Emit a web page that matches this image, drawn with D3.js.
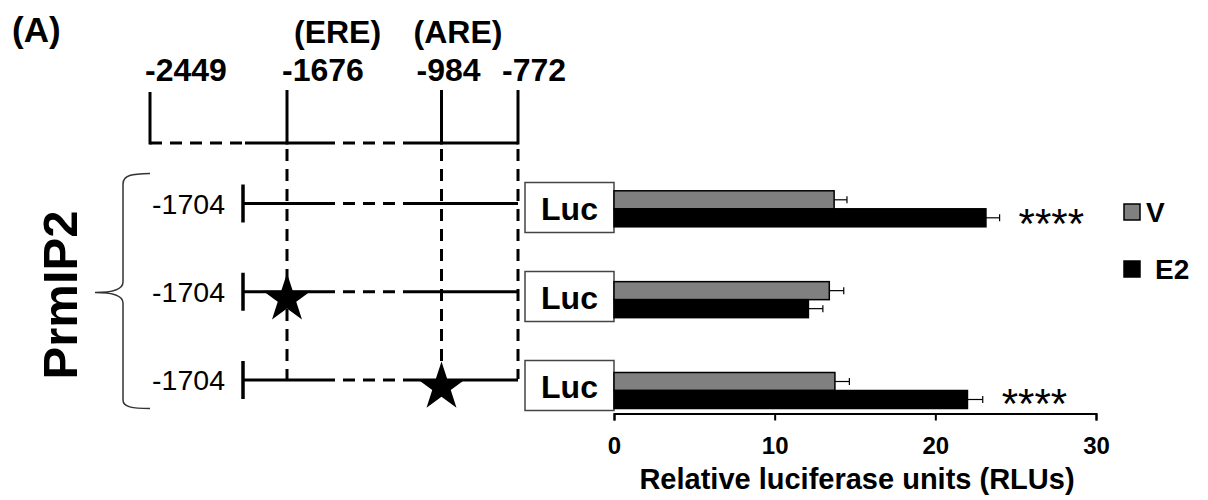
<!DOCTYPE html>
<html>
<head>
<meta charset="utf-8">
<script src="https://cdn.jsdelivr.net/npm/d3@7"></script>
<style>
  body { margin: 0; background: #fff; }
  svg { font-family: "Liberation Sans", Arial, sans-serif; }
  .bold { font-weight: bold; }
</style>
</head>
<body>
<svg width="1208" height="500"></svg>
<script>
// promoter sites on the map (bp) and the response elements above them
const sites = ["-2449", "-1676", "-984", "-772"];
const elements = [
  { site: "-1676", label: "(ERE)" },
  { site: "-984", label: "(ARE)" }
];

// reporter constructs: all start at -1704, mutated element marked by a star
const constructs = ["wt", "mutERE", "mutARE"];
const constructStart = "-1704";
const mutatedSite = [null, "-1676", "-984"];

// luciferase data
const seriesNames = ["V", "E2"];
const vValues = [13.7, 13.4, 13.75];
const vErrors = [0.8, 0.9, 0.9];
const e2Values = [23.15, 12.1, 22.0];
const e2Errors = [0.85, 0.9, 0.95];
const significance = ["****", "", "****"];
const xTicks = [0, 10, 20, 30];

const svg = d3.select("svg");

// ---------- layout ----------
const siteX = d3.scaleOrdinal().domain(sites).range([150, 287, 441.5, 518]);
const siteLabelShift = [-5, -5, -25, -16];
const startX = 243;
const solidEnd = 323;
const dashEnd = 415;
const mapY = 143;
const mapTop = 90;

const rowY = d3.scalePoint().domain(constructs).range([203.5, 380]);
const barY = d3.scalePoint().domain(constructs).range([208.8, 390.5]);
const lucY = d3.scalePoint().domain(constructs).range([207.5, 385.5]);

const xScale = d3.scaleLinear().domain([0, 30]).range([614, 1096]);
const barH = 18;
const colorScale = d3.scaleOrdinal().domain(seriesNames).range(["#808080", "#000000"]);
const dash = "12,8";

// ---------- title ----------
svg.append("text").attr("class", "bold")
  .attr("x", 12).attr("y", 42).attr("font-size", 35)
  .text("(A)");

// ---------- promoter map ----------
const map = svg.append("g").attr("stroke", "#000").attr("stroke-width", 3).attr("fill", "none");

// horizontal line of the full promoter
map.append("line").attr("x1", siteX(sites[0])).attr("x2", startX + 2)
  .attr("y1", mapY).attr("y2", mapY).attr("stroke-dasharray", dash);
map.append("line").attr("x1", startX + 2).attr("x2", solidEnd)
  .attr("y1", mapY).attr("y2", mapY);
map.append("line").attr("x1", solidEnd).attr("x2", dashEnd)
  .attr("y1", mapY).attr("y2", mapY).attr("stroke-dasharray", dash);
map.append("line").attr("x1", dashEnd).attr("x2", siteX(sites[3]))
  .attr("y1", mapY).attr("y2", mapY);

// solid site ticks
map.selectAll(".site-tick").data(sites).join("line")
  .attr("x1", d => siteX(d)).attr("x2", d => siteX(d))
  .attr("y1", (d, i) => i === 0 ? mapTop + 2 : mapTop)
  .attr("y2", mapY + 1.5);

// dashed guides down to the constructs
map.selectAll(".guide").data(sites.slice(1)).join("line")
  .attr("x1", d => siteX(d)).attr("x2", d => siteX(d))
  .attr("y1", mapY + 6).attr("y2", rowY(constructs[2]) - 1)
  .attr("stroke-width", 3)
  .attr("stroke-dasharray", dash);

svg.selectAll(".site-label").data(sites).join("text")
  .attr("class", "bold")
  .attr("x", (d, i) => siteX(d) + siteLabelShift[i])
  .attr("y", 81).attr("font-size", 32)
  .text(d => d);

svg.selectAll(".element-label").data(elements).join("text")
  .attr("class", "bold")
  .attr("x", d => siteX(d.site) + (d.site === "-1676" ? 7 : -28))
  .attr("y", 43).attr("font-size", 32)
  .text(d => d.label);

// ---------- constructs ----------
const rows = svg.selectAll(".row").data(constructs).join("g")
  .attr("transform", d => `translate(0,${rowY(d)})`);

rows.append("line").attr("x1", startX).attr("x2", solidEnd)
  .attr("stroke", "#000").attr("stroke-width", 3);
rows.append("line").attr("x1", solidEnd).attr("x2", dashEnd)
  .attr("stroke", "#000").attr("stroke-width", 3).attr("stroke-dasharray", dash);
rows.append("line").attr("x1", dashEnd).attr("x2", siteX(sites[3]))
  .attr("stroke", "#000").attr("stroke-width", 3);
rows.append("line").attr("x1", startX).attr("x2", startX)
  .attr("y1", -19).attr("y2", 19)
  .attr("stroke", "#000").attr("stroke-width", 3.5);
rows.append("text")
  .attr("x", 225).attr("y", 10)
  .attr("text-anchor", "end").attr("font-size", 28.5)
  .text(constructStart);

const star = d3.symbol(d3.symbolStar).size(730);
rows.filter((d, i) => mutatedSite[i] !== null)
  .append("path")
  .attr("d", star)
  .attr("fill", "#000")
  .attr("transform", d => `translate(${siteX(mutatedSite[constructs.indexOf(d)])},7)`);

// brace + construct name
svg.append("path")
  .attr("d", "M150,173.5 C132,174 123,175 123,184 L123,282 C123,290 110,292.5 95,292.5 C110,292.5 123,295 123,303 L123,400 C123,407 132,408.5 150,408.5")
  .attr("fill", "none").attr("stroke", "#333").attr("stroke-width", 1.5);

svg.append("text").attr("class", "bold")
  .attr("transform", "rotate(-90)")
  .attr("x", -295).attr("y", 77)
  .attr("text-anchor", "middle").attr("font-size", 49)
  .text("PrmIP2");

// ---------- luciferase boxes ----------
const luc = svg.selectAll(".luc").data(constructs).join("g")
  .attr("transform", d => `translate(525,${lucY(d) - 25})`);
luc.append("rect").attr("width", xScale(0) - 525).attr("height", 50)
  .attr("fill", "#fff").attr("stroke", "#444").attr("stroke-width", 1.5);
luc.append("text").attr("class", "bold")
  .attr("x", (xScale(0) - 525) / 2).attr("y", 37)
  .attr("text-anchor", "middle").attr("font-size", 32)
  .text("Luc");

// ---------- bars ----------
const barData = constructs.flatMap((c, i) => [
  { c, s: "V", v: vValues[i], e: vErrors[i], k: 0 },
  { c, s: "E2", v: e2Values[i], e: e2Errors[i], k: 1 }
]);

const bars = svg.append("g");
bars.selectAll(".err").data(barData).join("g")
  .each(function(d) {
    const g = d3.select(this);
    const y = barY(d.c) + (d.k - 0.5) * barH;
    g.append("line").attr("x1", xScale(d.v)).attr("x2", xScale(d.v + d.e))
      .attr("y1", y).attr("y2", y).attr("stroke", "#000").attr("stroke-width", 1.2);
    g.append("line").attr("x1", xScale(d.v + d.e)).attr("x2", xScale(d.v + d.e))
      .attr("y1", y - 3.5).attr("y2", y + 3.5).attr("stroke", "#000").attr("stroke-width", 1.2);
  });

bars.selectAll("rect").data(barData).join("rect")
  .attr("x", xScale(0))
  .attr("y", d => barY(d.c) - barH + d.k * barH)
  .attr("width", d => xScale(d.v) - xScale(0))
  .attr("height", barH)
  .attr("fill", d => colorScale(d.s))
  .attr("stroke", "#000").attr("stroke-width", 1.5);

svg.selectAll(".sig").data(constructs).join("text")
  .attr("x", (d, i) => xScale(e2Values[i] + e2Errors[i]) + 19)
  .attr("y", (d, i) => barY(d) + (i === 0 ? 29 : 27))
  .attr("font-size", 42)
  .text((d, i) => significance[i]);

// ---------- x axis ----------
const xAxis = d3.axisBottom(xScale).tickValues(xTicks).tickSize(7).tickSizeOuter(7).tickPadding(16);
const xAxisG = svg.append("g")
  .attr("transform", "translate(0,413.5)")
  .call(xAxis);
xAxisG.select(".domain").attr("stroke-width", 2);
xAxisG.selectAll(".tick line").attr("stroke-width", 2);
xAxisG.selectAll(".tick text")
  .attr("font-size", 24).attr("font-weight", "bold")
  .attr("font-family", "Liberation Sans, Arial, sans-serif");

svg.append("text").attr("class", "bold")
  .attr("x", (xScale(0) + xScale(30)) / 2 + 2).attr("y", 489)
  .attr("text-anchor", "middle").attr("font-size", 29)
  .text("Relative luciferase units (RLUs)");

// ---------- legend ----------
const legend = svg.selectAll(".legend").data(seriesNames).join("g")
  .attr("transform", (d, i) => `translate(1124,${204 + i * 57})`);
legend.append("rect").attr("width", 16).attr("height", 16)
  .attr("fill", colorScale).attr("stroke", "#000").attr("stroke-width", 1.5);
legend.append("text").attr("class", "bold")
  .attr("x", (d, i) => i === 0 ? 22 : 31).attr("y", 18)
  .attr("font-size", 28)
  .text(d => d);
</script>
</body>
</html>
